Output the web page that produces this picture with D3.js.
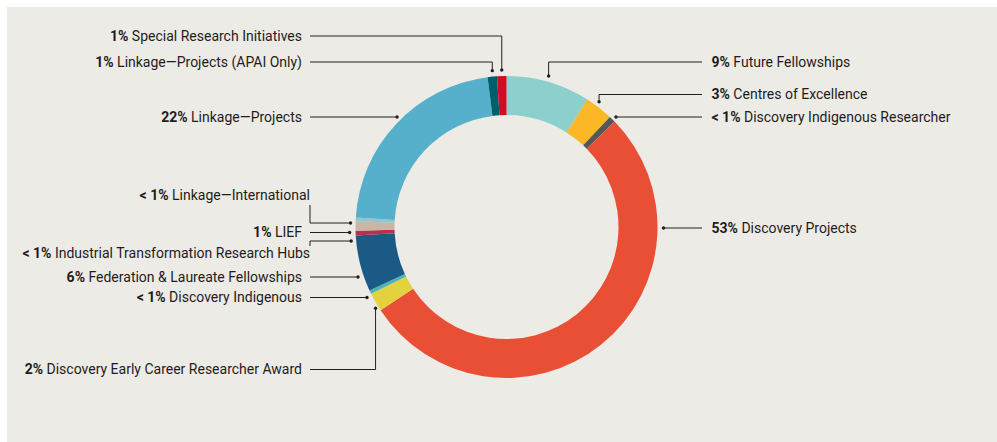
<!DOCTYPE html>
<html>
<head>
<meta charset="utf-8">
<script src="https://cdn.jsdelivr.net/npm/d3@7/dist/d3.min.js"></script>
<style>
  html, body { margin: 0; padding: 0; background: #ffffff; }
  svg { display: block; }
  text { font-family: Roboto, "Liberation Sans", sans-serif; font-size: 14px; fill: #1f1c1d; }
</style>
</head>
<body>
<svg id="chart" width="997" height="442"></svg>
<script>
// Funding schemes, clockwise from twelve o'clock
const categories = [
  "Future Fellowships",
  "Centres of Excellence",
  "Discovery Indigenous Researcher",
  "Discovery Projects",
  "Discovery Early Career Researcher Award",
  "Discovery Indigenous",
  "Federation & Laureate Fellowships",
  "Industrial Transformation Research Hubs",
  "LIEF",
  "Linkage—International",
  "Linkage—Projects",
  "Linkage—Projects (APAI Only)",
  "Special Research Initiatives"
];
// Share of funding (%); the "< 1%" schemes are estimates
const shares = [9, 3, 0.7, 53, 2, 0.4, 6, 0.5, 1, 0.4, 22, 1, 1];
const shareLabels = ["9%", "3%", "< 1%", "53%", "2%", "< 1%", "6%", "< 1%", "1%", "< 1%", "22%", "1%", "1%"];
const colors = [
  "#8ccfcc", "#fbb826", "#55565a", "#e94f35", "#e2d23d", "#4db3b8", "#1c5a86",
  "#b8304f", "#c9b6a4", "#8cc8cf", "#56b0cb", "#005f6a", "#d20a22"
];

// Where each label sits and how its leader reaches the ring
const labelLayout = [
  { side: "right", y: 62,    kind: "drop" },
  { side: "right", y: 94.5,  kind: "drop" },
  { side: "right", y: 117,   kind: "flat" },
  { side: "right", y: 228,   kind: "flat" },
  { side: "left",  y: 369.5, kind: "rise" },
  { side: "left",  y: 297.5, kind: "flat" },
  { side: "left",  y: 277,   kind: "flat" },
  { side: "left",  y: 253,   kind: "stepUp",   lineY: 241, textEnd: 310 },
  { side: "left",  y: 232.5, kind: "flat" },
  { side: "left",  y: 195,   kind: "stepDown", lineY: 223, textEnd: 310 },
  { side: "left",  y: 117,   kind: "flat" },
  { side: "left",  y: 62,    kind: "drop" },
  { side: "left",  y: 36,    kind: "drop" }
];

const W = 997, H = 442;
const cx = 506.5, cy = 227;
const outerR = 151, innerR = 112;
const gap = 6;

const svg = d3.select("#chart");

// Panel background
svg.append("rect")
  .attr("x", 7).attr("y", 7)
  .attr("width", W - 7).attr("height", H - 7)
  .attr("fill", "#edebe6");

const pie = d3.pie().sort(null).value(d => d)(shares);
const arc = d3.arc().innerRadius(innerR).outerRadius(outerR);

const g = svg.append("g").attr("transform", `translate(${cx},${cy})`);
g.selectAll("path.slice")
  .data(pie)
  .join("path")
  .attr("class", "slice")
  .attr("d", arc)
  .attr("fill", (d, i) => colors[i]);

// Leaders and labels
const leaders = svg.append("g")
  .attr("fill", "none")
  .attr("stroke", "#231f20")
  .attr("stroke-width", 1);
const dots = svg.append("g").attr("fill", "#231f20");
const labels = svg.append("g");

const leftLineX = 310, rightLineX = 702;
const leftTextX = 302, rightTextX = 711.5;

// x of the ring's outer edge at a given height
function edgeX(y, side) {
  const dy = y - cy;
  const dx = Math.sqrt(Math.max(0, outerR * outerR - dy * dy));
  return side === "left" ? cx - dx : cx + dx;
}

pie.forEach((d, i) => {
  const L = labelLayout[i];
  const mid = (d.startAngle + d.endAngle) / 2;
  const px = cx + outerR * Math.sin(mid);
  const py = cy - outerR * Math.cos(mid);
  const startX = L.side === "left" ? leftLineX : rightLineX;
  let pts;
  if (L.kind === "flat") {
    const ex = edgeX(L.y, L.side) + (L.side === "left" ? -gap : gap);
    pts = [[startX, L.y], [ex, L.y]];
  } else if (L.kind === "drop") {
    pts = [[startX, L.y], [px, L.y], [px, py - gap]];
  } else if (L.kind === "rise") {
    pts = [[startX, L.y], [px, L.y], [px, py + gap]];
  } else if (L.kind === "stepDown") {
    const ex = edgeX(L.lineY, L.side) - 5;
    pts = [[startX, L.y + 10], [startX, L.lineY], [ex, L.lineY]];
  } else {
    const ex = edgeX(L.lineY, L.side) - 5;
    pts = [[startX, L.y - 7], [startX, L.lineY], [ex, L.lineY]];
  }
  leaders.append("path").attr("d", d3.line()(pts));
  const end = pts[pts.length - 1];
  dots.append("circle").attr("cx", end[0]).attr("cy", end[1]).attr("r", 1.7);

  const t = labels.append("text")
    .attr("x", L.side === "left" ? (L.textEnd || leftTextX) : rightTextX)
    .attr("y", L.y)
    .attr("dy", "0.35em")
    .attr("text-anchor", L.side === "left" ? "end" : "start");
  t.append("tspan").attr("font-weight", "bold").text(shareLabels[i]);
  t.append("tspan").text(" " + categories[i]);
});
</script>
</body>
</html>
